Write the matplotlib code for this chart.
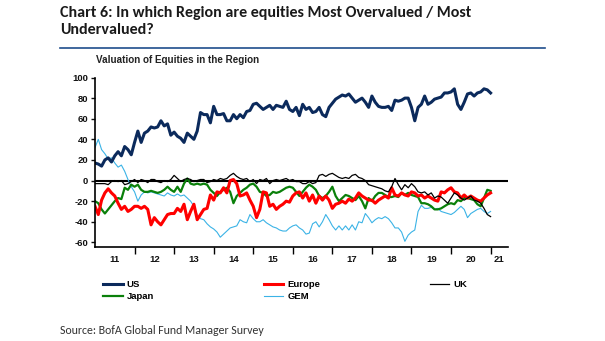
import numpy as np
import matplotlib
matplotlib.use('Agg')
import matplotlib.pyplot as plt
from matplotlib.lines import Line2D

plt.rcParams['font.family'] = ['Liberation Sans', 'DejaVu Sans']

# ------------------------------------------------------------
# data: monthly readings, Jan 2011 .. Jan 2021
# ------------------------------------------------------------
start_year = 2011

us = [17, 16, 14, 20, 22, 18, 24, 28, 24, 33, 30, 25,
      37, 48, 37, 46, 48, 52, 51, 52, 58, 53, 55, 44,
      47, 43, 41, 37, 46, 43, 40, 48, 66, 64, 64, 56,
      72, 64, 64, 65, 58, 58, 64, 60, 64, 61, 67, 68,
      74, 75, 72, 69, 71, 73, 69, 73, 72, 71, 77, 69,
      67, 71, 63, 74, 69, 71, 66, 67, 71, 64, 62, 71,
      75, 79, 81, 83, 82, 84, 80, 76, 78, 80, 76, 71,
      82, 76, 72, 71, 71, 72, 68, 78, 77, 78, 80, 80,
      71, 58, 71, 74, 82, 74, 76, 79, 80, 81, 85, 85,
      86, 89, 74, 69, 76, 84, 85, 82, 85, 86, 89, 88,
      85]

europe = [-25, -33, -19, -12, -8, -12, -15, -22, -28, -25, -30, -28,
          -25, -25, -27, -25, -28, -43, -36, -40, -43, -38, -33, -32,
          -32, -27, -30, -23, -38, -30, -23, -38, -33, -28, -27, -14,
          -19, -11, -12, -7, -12, 0, 1, -3, -15, -14, -12, -19,
          -25, -36, -28, -11, -12, -25, -23, -28, -25, -23, -20, -21,
          -15, -12, -11, -17, -12, -20, -14, -22, -15, -19, -15, -19,
          -27, -23, -22, -20, -22, -18, -20, -17, -12, -15, -17, -19,
          -19, -22, -19, -17, -15, -17, -7, -14, -15, -12, -14, -15,
          -11, -12, -15, -14, -17, -15, -17, -19, -20, -11, -12, -9,
          -7, -11, -12, -17, -14, -17, -15, -17, -19, -20, -17, -14,
          -12]

uk = [-3, -3, -3, -3, -4, -1, 0, -1, 0, -4, -3, -1,
      1, -2, 1, 0, -2, 1, 1, -1, -2, 0, -1, 1,
      5, 2, -1, 1, 2, 1, -1, 0, 1, 1, -2, -1,
      1, 0, 2, 1, 2, 5, 7, 4, 2, 1, 2, -1,
      1, -3, 1, 0, 2, -3, 0, 1, 0, 1, 2, 0,
      1, -1, -1, -3, -3, -1, -3, -2, 5, 6, 4, 6,
      7, 5, 3, 2, 3, 2, 5, 6, 3, 2, 0, -4,
      -5, -6, -7, -8, -10, -11, -6, 2, -4, -9, -4, -7,
      -3, -6, -11, -12, -11, -14, -12, -17, -15, -16, -19, -22,
      -17, -12, -14, -17, -19, -17, -15, -19, -20, -22, -27, -33,
      -35]

japan = [-20, -22, -28, -32, -28, -24, -20, -17, -18, -7, -9, -4,
         -6, -4, -9, -11, -11, -10, -11, -12, -11, -9, -6, -9,
         -11, -6, -11, -3, 2, -3, -4, -3, -4, -3, -4, -9,
         -12, -15, -11, -9, -7, -11, -22, -15, -12, -9, -7, -4,
         -3, -6, -11, -12, -15, -14, -11, -12, -11, -9, -7, -6,
         -7, -11, -15, -11, -7, -4, -6, -9, -15, -17, -15, -11,
         -6, -15, -20, -17, -14, -15, -17, -19, -15, -20, -27, -17,
         -20, -15, -12, -12, -14, -16, -16, -15, -16, -12, -14, -12,
         -14, -15, -16, -22, -22, -23, -25, -28, -28, -27, -25, -23,
         -22, -23, -19, -20, -17, -17, -18, -19, -23, -25, -17, -9,
         -10]

gem = [32, 40, 30, 26, 21, 22, 17, 13, 15, 9, 1, -6,
       -11, -20, -14, -11, -12, -11, -12, -13, -14, -15, -12, -14,
       -15, -13, -15, -14, -17, -20, -25, -33, -37, -38, -42, -45,
       -47, -50, -55, -52, -49, -46, -45, -44, -38, -40, -41, -33,
       -37, -40, -40, -38, -41, -43, -45, -46, -48, -49, -49, -46,
       -44, -43, -46, -48, -52, -51, -42, -40, -45, -40, -33, -38,
       -44, -48, -44, -48, -44, -48, -43, -48, -40, -41, -32, -36,
       -41, -38, -36, -37, -35, -37, -41, -46, -46, -50, -59, -53,
       -50, -48, -30, -24, -27, -27, -26, -28, -27, -30, -31, -32,
       -33, -31, -28, -25, -28, -36, -32, -30, -28, -27, -30, -32,
       -30]

year_labels = ['11', '12', '13', '14', '15', '16', '17', '18', '19', '20', '21']
y_ticks = [-60, -40, -20, 0, 20, 40, 60, 80, 100]

# name, values, colour, line width (draw order: back to front)
series = [
    ('GEM', gem, '#3bb3e6', 0.8),
    ('Japan', japan, '#0a800a', 1.6),
    ('Europe', europe, '#ff0000', 2.2),
    ('UK', uk, '#000000', 0.9),
    ('US', us, '#0b2a5c', 2.2),
]

fig = plt.figure(figsize=(6.05, 3.41), dpi=100)
W, H = 605, 341

# title block
fig.text(60 / W, 1 - 6 / H,
         'Chart 6: In which Region are equities Most Overvalued / Most\nUndervalued?',
         family=['Carlito', 'Liberation Sans'], fontweight='bold',
         fontsize=11.5, color='#1a1a1a', va='top', ha='left', linespacing=1.3)
fig.add_artist(Line2D([60 / W, 545 / W], [1 - 48 / H, 1 - 48 / H],
                      color='#1f4e8c', lw=1.2))
fig.text(96 / W, 1 - 60 / H, 'Valuation of Equities in the Region',
         fontsize=7.1, fontweight='bold', color='#222222', va='center')

ax = fig.add_axes([95 / W, 1 - 247 / H, (508 - 95) / W, (247 - 77.5) / H])

handles = {}
for name, vals, color, lw in series:
    x = start_year + np.arange(len(vals)) / 12
    line, = ax.plot(x, vals, color=color, lw=lw, label=name, solid_joinstyle='round')
    handles[name] = line

ax.axhline(0, color='black', lw=1.5, zorder=1)

ax.set_xlim(2011, 2021.44)
ax.set_ylim(-64.5, 100)

for s in ['top', 'right']:
    ax.spines[s].set_visible(False)
for s in ['left', 'bottom']:
    ax.spines[s].set_linewidth(1.2)

ax.set_yticks(y_ticks)
ax.set_yticklabels([str(v) for v in y_ticks])
ax.tick_params(axis='y', direction='out', length=3, width=1, pad=2,
               labelsize=6.8, colors='#111111')

# year boundaries carry the tick marks, labels sit mid-year
ax.set_xticks(np.arange(2012, 2022))
ax.set_xticklabels([])
ax.tick_params(axis='x', which='major', direction='out', length=5, width=1)
mid = list(np.arange(2011.5, 2021, 1.0)) + [2021.21]
ax.set_xticks(mid, minor=True)
ax.set_xticklabels(year_labels, minor=True)
ax.tick_params(axis='x', which='minor', length=0, pad=6, labelsize=6.8, colors='#111111')
for lab in ax.get_yticklabels() + ax.get_xticklabels(minor=True):
    lab.set_fontweight('bold')

order = ['US', 'Japan', 'Europe', 'GEM', 'UK']
fig.legend([handles[n] for n in order], order, ncol=3, loc='upper left',
           bbox_to_anchor=(103 / W, 1 - 280 / H), frameon=False,
           prop={'size': 6.8, 'weight': 'bold'}, handlelength=2.1,
           handletextpad=0.4, columnspacing=11.6, labelspacing=0.3,
           borderpad=0, borderaxespad=0)

fig.text(60 / W, 1 - 331 / H, 'Source: BofA Global Fund Manager Survey',
         family=['Carlito', 'Liberation Sans'], fontsize=8.6,
         color='#333333', va='center')

fig.savefig('out.png', dpi=100)
